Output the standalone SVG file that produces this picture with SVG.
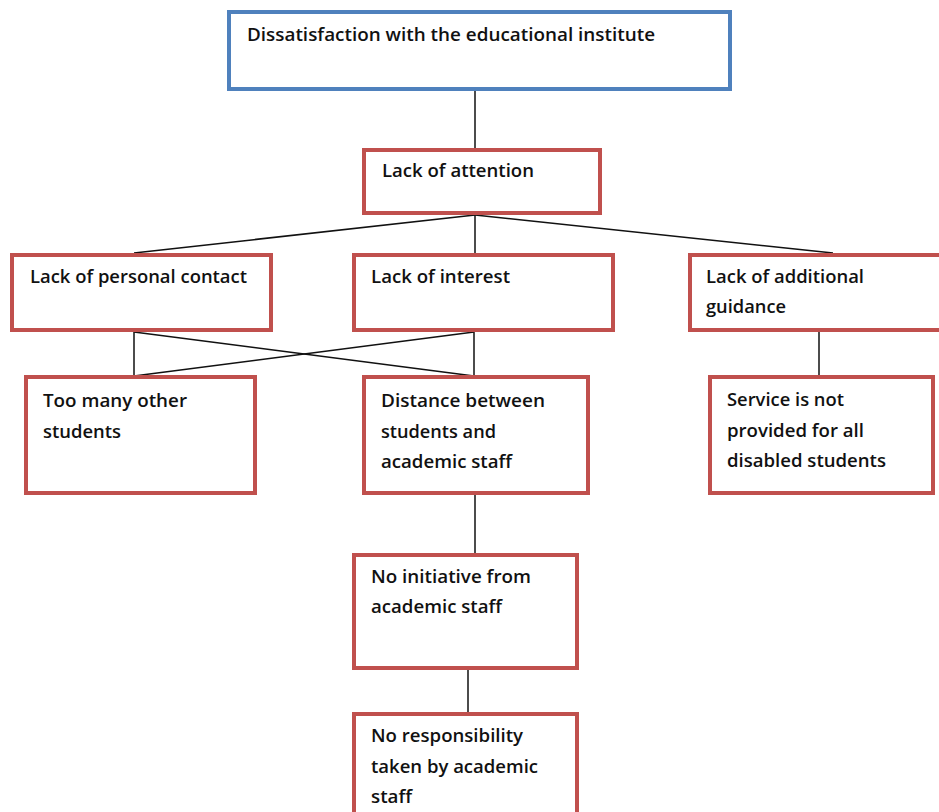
<svg xmlns="http://www.w3.org/2000/svg" width="939" height="812" viewBox="0 0 939 812">
  <style>
    .box { fill: #ffffff; stroke: #c0504d; stroke-width: 4; }
    .root { fill: #ffffff; stroke: #4f81bd; stroke-width: 4; }
    .lbl { font-family: "Open Sans", "Noto Sans", sans-serif; font-weight: 600; font-size: 17.5px; fill: #111111; }
    .wire { stroke: #111111; stroke-width: 1.5; fill: none; }
  </style>
  <rect width="939" height="812" fill="#ffffff"/>

  <g id="connectors">
    <line class="wire" x1="475" y1="91" x2="475" y2="148"/>
    <line class="wire" x1="475" y1="215" x2="134" y2="253"/>
    <line class="wire" x1="475" y1="215" x2="475" y2="253"/>
    <line class="wire" x1="475" y1="215" x2="833" y2="253"/>
    <line class="wire" x1="134" y1="332" x2="134" y2="376"/>
    <line class="wire" x1="474" y1="332" x2="474" y2="376"/>
    <line class="wire" x1="134" y1="332" x2="474" y2="376"/>
    <line class="wire" x1="474" y1="332" x2="134" y2="376"/>
    <line class="wire" x1="819" y1="332" x2="819" y2="376"/>
    <line class="wire" x1="475" y1="495" x2="475" y2="553"/>
    <line class="wire" x1="468" y1="670" x2="468" y2="712"/>
  </g>

  <g id="dissatisfaction">
    <rect class="root" x="229" y="12" width="501" height="77"/>
    <text class="lbl" x="247" y="41" textLength="408" lengthAdjust="spacingAndGlyphs">Dissatisfaction with the educational institute</text>
  </g>

  <g id="lack-of-attention">
    <rect class="box" x="364" y="150" width="236" height="63"/>
    <text class="lbl" x="382" y="177" textLength="152" lengthAdjust="spacingAndGlyphs">Lack of attention</text>
  </g>

  <g id="lack-of-personal-contact">
    <rect class="box" x="12" y="255" width="259" height="75"/>
    <text class="lbl" x="30" y="283" textLength="217" lengthAdjust="spacingAndGlyphs">Lack of personal contact</text>
  </g>

  <g id="lack-of-interest">
    <rect class="box" x="354" y="255" width="259" height="75"/>
    <text class="lbl" x="371" y="283" textLength="139" lengthAdjust="spacingAndGlyphs">Lack of interest</text>
  </g>

  <g id="lack-of-additional-guidance">
    <rect class="box" x="690" y="255" width="260" height="75"/>
    <text class="lbl" x="706" y="283" textLength="158" lengthAdjust="spacingAndGlyphs">Lack of additional</text>
    <text class="lbl" x="706" y="313" textLength="80" lengthAdjust="spacingAndGlyphs">guidance</text>
  </g>

  <g id="too-many-other-students">
    <rect class="box" x="26" y="377" width="229" height="116"/>
    <text class="lbl" x="43" y="407" textLength="144" lengthAdjust="spacingAndGlyphs">Too many other</text>
    <text class="lbl" x="43" y="438" textLength="78" lengthAdjust="spacingAndGlyphs">students</text>
  </g>

  <g id="distance-students-staff">
    <rect class="box" x="364" y="377" width="224" height="116"/>
    <text class="lbl" x="381" y="407" textLength="164" lengthAdjust="spacingAndGlyphs">Distance between</text>
    <text class="lbl" x="381" y="438" textLength="115" lengthAdjust="spacingAndGlyphs">students and</text>
    <text class="lbl" x="381" y="468" textLength="131" lengthAdjust="spacingAndGlyphs">academic staff</text>
  </g>

  <g id="service-not-provided">
    <rect class="box" x="710" y="377" width="223" height="116"/>
    <text class="lbl" x="727" y="406" textLength="117" lengthAdjust="spacingAndGlyphs">Service is not</text>
    <text class="lbl" x="727" y="437" textLength="137" lengthAdjust="spacingAndGlyphs">provided for all</text>
    <text class="lbl" x="727" y="467" textLength="159" lengthAdjust="spacingAndGlyphs">disabled students</text>
  </g>

  <g id="no-initiative">
    <rect class="box" x="354" y="555" width="223" height="113"/>
    <text class="lbl" x="371" y="583" textLength="160" lengthAdjust="spacingAndGlyphs">No initiative from</text>
    <text class="lbl" x="371" y="613" textLength="131" lengthAdjust="spacingAndGlyphs">academic staff</text>
  </g>

  <g id="no-responsibility">
    <rect class="box" x="354" y="714" width="223" height="120"/>
    <text class="lbl" x="371" y="742" textLength="152" lengthAdjust="spacingAndGlyphs">No responsibility</text>
    <text class="lbl" x="371" y="773" textLength="167" lengthAdjust="spacingAndGlyphs">taken by academic</text>
    <text class="lbl" x="371" y="803" textLength="41" lengthAdjust="spacingAndGlyphs">staff</text>
  </g>
</svg>
